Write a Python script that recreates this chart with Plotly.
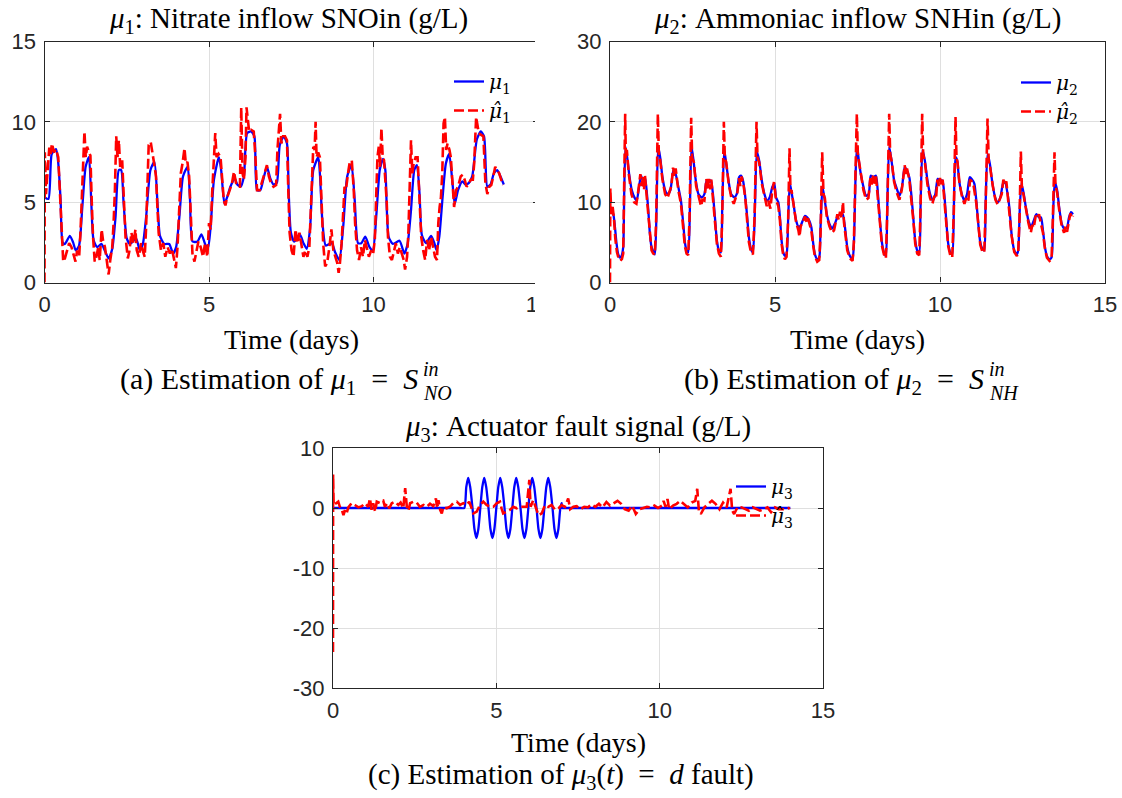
import plotly.graph_objects as go

W, H = 1122, 798

# ---------------- data: mu1 (nitrate) ----------------
t_mu1 = [0, 0.12, 0.22, 0.35, 0.42, 0.49, 0.55, 0.62, 0.77, 0.87, 0.95, 1.05, 1.15, 1.25, 1.35, 1.42,
         1.49, 1.60, 1.73, 1.83, 1.95, 2.06, 2.16, 2.26, 2.33, 2.40, 2.50, 2.60, 2.78, 2.90, 2.99, 3.09,
         3.22, 3.34, 3.44, 3.51, 3.64, 3.79, 3.91, 4.00, 4.10, 4.21, 4.35, 4.42, 4.50, 4.65, 4.77, 4.90,
         4.97, 5.05, 5.15, 5.30, 5.37, 5.47, 5.55, 5.65, 5.78, 5.86, 5.96, 6.06, 6.16, 6.28, 6.38, 6.46,
         6.56, 6.66, 6.76, 6.86, 6.96, 7.06, 7.15, 7.27, 7.37, 7.42, 7.49, 7.59, 7.77, 7.87, 7.97, 8.07,
         8.17, 8.32, 8.37, 8.45, 8.55, 8.73, 8.83, 8.96, 9.08, 9.20, 9.33, 9.43, 9.53, 9.63, 9.75, 9.88,
         9.98, 10.09, 10.19, 10.29, 10.36, 10.46, 10.59, 10.79, 10.94, 11.04, 11.14, 11.24, 11.32, 11.40,
         11.47, 11.60, 11.75, 11.85, 11.92, 12.00, 12.10, 12.20, 12.30, 12.40, 12.47, 12.57, 12.70, 12.80,
         12.90, 13.00, 13.14, 13.26, 13.36, 13.46, 13.56, 13.66, 13.76, 13.86, 13.96]
v_mu1 = [5.3, 5.2, 8.0, 8.3, 7.4, 5.1, 2.5, 2.4, 2.9, 2.5, 2.0, 2.3, 4.7, 7.2, 7.8, 5.1,
         2.65, 2.2, 2.4, 2.0, 1.5, 2.1, 4.1, 7.0, 7.0, 5.1, 2.75, 2.4, 2.75, 2.0, 2.4, 4.1,
         7.0, 7.5, 4.7, 2.9, 2.4, 2.4, 1.8, 2.2, 4.1, 6.6, 7.2, 5.3, 2.55, 2.55, 3.0, 2.3,
         2.2, 3.5, 6.4, 7.8, 7.0, 4.9, 5.3, 5.96, 6.5, 6.1, 5.96, 6.6, 9.3, 9.4, 9.1, 5.75,
         5.75, 6.5, 7.2, 6.5, 6.1, 6.2, 8.55, 9.1, 8.65, 5.75, 3.1, 2.55, 2.96, 2.45, 2.1, 3.3,
         7.0, 7.8, 6.8, 3.7, 2.3, 2.45, 1.9, 1.4, 3.5, 6.6, 7.3, 5.1, 2.45, 2.45, 2.85, 2.2,
         2.0, 4.3, 7.0, 7.7, 7.0, 2.85, 2.4, 2.6, 1.8, 2.45, 4.5, 7.0, 7.3, 5.5,
         2.96, 2.45, 2.9, 2.45, 2.0, 2.85, 5.3, 7.4, 8.0, 6.2, 4.9, 5.75, 6.3, 6.1,
         6.2, 6.6, 8.9, 9.4, 9.1, 5.96, 6.1, 6.8, 7.0, 6.6, 6.1]

t_mu1_hat = [0.0, 0.01, 0.045, 0.086, 0.146, 0.186, 0.227, 0.287, 0.347, 0.418, 0.468, 0.519, 0.569, 0.619,
             0.690, 0.750, 0.821, 0.871, 0.942, 0.992, 1.053, 1.093, 1.133, 1.173, 1.214, 1.254, 1.294,
             1.354, 1.395, 1.435, 1.475, 1.526, 1.576, 1.636, 1.677, 1.737, 1.777, 1.838, 1.898, 1.949,
             1.999, 2.059, 2.100, 2.140, 2.180, 2.220, 2.260, 2.301, 2.361, 2.402, 2.462, 2.533, 2.583,
             2.643, 2.704, 2.764, 2.804, 2.865, 2.935, 2.985, 3.046, 3.086, 3.127, 3.167, 3.228, 3.288,
             3.348, 3.389, 3.429, 3.469, 3.540, 3.610, 3.671, 3.741, 3.812, 3.872, 3.943, 3.993, 4.043,
             4.094, 4.144, 4.194, 4.255, 4.295, 4.345, 4.396, 4.446, 4.497, 4.557, 4.617, 4.678, 4.748,
             4.819, 4.879, 4.950, 5.00, 5.05, 5.10, 5.15, 5.19, 5.23, 5.29, 5.35, 5.40, 5.45, 5.50, 5.55,
             5.63, 5.70, 5.76, 5.82, 5.88, 5.94, 5.98, 6.02, 6.06, 6.11, 6.14, 6.18, 6.22, 6.28, 6.36,
             6.41, 6.46, 6.54, 6.61, 6.68, 6.76, 6.82, 6.88, 6.96, 7.04, 7.08, 7.12, 7.16, 7.20, 7.25,
             7.31, 7.37, 7.41, 7.45, 7.51, 7.57, 7.63, 7.69, 7.75, 7.81, 7.87, 7.93, 7.99, 8.05, 8.09,
             8.13, 8.17, 8.21, 8.24, 8.27, 8.32, 8.37, 8.42, 8.47, 8.53, 8.59, 8.66, 8.72, 8.78, 8.84,
             8.90, 8.94, 8.98, 9.03, 9.08, 9.12, 9.16, 9.20, 9.24, 9.28, 9.34, 9.40, 9.44, 9.50, 9.56,
             9.62, 9.68, 9.74, 9.80, 9.86, 9.93, 9.99, 10.04, 10.09, 10.12, 10.16, 10.20, 10.24, 10.28,
             10.32, 10.36, 10.40, 10.44, 10.50, 10.56, 10.62, 10.68, 10.74, 10.80, 10.86, 10.92, 10.96,
             11.02, 11.06, 11.10, 11.14, 11.18, 11.22, 11.28, 11.34, 11.40, 11.45, 11.51, 11.57, 11.63,
             11.69, 11.75, 11.81, 11.87, 11.93, 11.97, 12.01, 12.05, 12.09, 12.13, 12.17, 12.21, 12.25,
             12.31, 12.35, 12.41, 12.45, 12.51, 12.57, 12.65, 12.71, 12.77, 12.83, 12.90, 12.96, 13.02,
             13.06, 13.12, 13.16, 13.20, 13.26, 13.34, 13.40, 13.46, 13.52, 13.58, 13.64, 13.70, 13.76,
             13.82, 13.88, 13.94]
v_mu1_hat = [0.0, 8.1, 5.5, 6.6, 8.4, 8.0, 8.65, 8.1, 8.3, 7.8, 5.3, 2.65, 1.3, 1.5,
             2.0, 2.45, 2.2, 1.8, 1.3, 2.0, 1.6, 3.1, 5.1, 7.8, 9.4, 7.8, 8.45,
             8.1, 7.9, 5.1, 2.85, 1.3, 1.6, 2.2, 1.4, 3.3, 2.65, 2.2, 1.2, 0.5,
             1.4, 2.2, 3.7, 5.75, 9.1, 7.8, 8.85, 7.2, 7.6, 5.3, 2.85, 1.5, 2.0,
             3.1, 2.45, 3.3, 2.0, 1.6, 2.45, 2.0, 1.6, 3.3, 6.4, 8.55, 8.75, 7.8,
             7.2, 6.6, 5.1, 3.1, 2.0, 2.45, 1.6, 2.2, 1.8, 2.1, 1.4, 0.9, 2.2,
             4.3, 6.8, 7.4, 8.35, 7.4, 7.5, 6.6, 3.7, 1.8, 1.3, 2.0, 2.55, 2.2,
             1.6, 2.45, 1.6, 3.7, 3.3, 5.75, 8.25, 9.3, 7.8, 8.0, 7.8, 6.6, 5.1, 4.8, 5.3,
             5.75, 6.2, 6.9, 6.2, 5.96, 5.96, 10.9, 6.8, 6.4, 7.8, 10.9, 9.9, 9.4, 9.5, 9.4,
             7.8, 5.75, 5.75, 6.2, 6.8, 7.3, 6.6, 6.2, 5.96, 6.07, 8.25, 9.5, 10.5, 8.65, 9.1,
             9.1, 8.85, 5.75, 3.1, 2.0, 1.6, 3.3, 2.45, 3.1, 2.2, 1.6, 2.0, 1.6, 2.2, 4.5,
             6.8, 8.45, 8.25, 10.0, 7.8, 8.1, 7.8, 5.1, 2.45, 1.0, 1.2, 2.2, 3.3, 2.0, 1.6,
             1.2, 0.6, 1.2, 2.45, 4.1, 5.96, 5.75, 6.6, 7.0, 7.5, 7.6, 5.75, 3.7, 2.0, 1.4,
             2.2, 1.6, 2.65, 2.2, 1.6, 2.0, 1.8, 2.65, 5.3, 7.8, 8.45, 7.2, 9.6, 7.8,
             7.6, 6.6, 5.1, 2.85, 1.6, 1.4, 2.0, 2.45, 1.8, 2.2, 1.8, 1.4, 0.8,
             1.6, 3.1, 5.75, 8.85, 6.8, 7.4, 7.8, 7.8, 5.1, 2.85, 2.0, 1.4, 2.65,
             2.0, 2.85, 2.2, 1.6, 1.4, 3.7, 4.7, 5.3, 6.8, 9.9, 10.3, 8.25, 8.65,
             8.25, 7.8, 5.75, 4.7, 5.75, 5.96, 6.6, 6.7, 6.4, 5.96, 6.2, 6.4, 6.4,
             7.4, 10.3, 9.9, 9.3, 9.2, 9.1, 6.2, 5.5, 5.96, 6.07, 6.6, 7.2, 7.0,
             6.8, 6.4, 6.07]

# ---------------- data: mu2 (ammoniac) ----------------
t_mu2 = [0, 0.03, 0.10, 0.15, 0.20, 0.25, 0.30, 0.35, 0.40, 0.43, 0.47, 0.52, 0.58, 0.66, 0.74, 0.81,
         0.88, 0.94, 1.00, 1.06, 1.12, 1.16, 1.21, 1.26, 1.31, 1.36, 1.41, 1.46, 1.52, 1.59, 1.67, 1.75,
         1.83, 1.92, 1.99, 2.07, 2.15, 2.22, 2.27, 2.32, 2.37, 2.42, 2.47, 2.53, 2.60, 2.68, 2.78, 2.86,
         2.93, 3.00, 3.06, 3.12, 3.18, 3.24, 3.30, 3.36, 3.40, 3.46, 3.51, 3.59, 3.67, 3.77, 3.84, 3.91,
         3.97, 4.03, 4.09, 4.15, 4.21, 4.27, 4.33, 4.39, 4.45, 4.52, 4.60, 4.68, 4.76, 4.84, 4.92, 4.98,
         5.03, 5.10, 5.15, 5.20, 5.25, 5.30, 5.35, 5.40, 5.45, 5.49, 5.56, 5.64, 5.72, 5.78, 5.84, 5.91,
         5.98, 6.04, 6.10, 6.16, 6.21, 6.28, 6.34, 6.38, 6.44, 6.51, 6.57, 6.65, 6.73, 6.81, 6.89, 6.97,
         7.05, 7.12, 7.19, 7.27, 7.35, 7.39, 7.45, 7.49, 7.54, 7.60, 7.68, 7.76, 7.84, 7.90, 7.98, 8.06,
         8.12, 8.18, 8.24, 8.30, 8.36, 8.40, 8.46, 8.53, 8.61, 8.69, 8.77, 8.85, 8.93, 8.99, 9.07, 9.13,
         9.19, 9.25, 9.31, 9.37, 9.41, 9.47, 9.54, 9.62, 9.70, 9.78, 9.86, 9.93, 10.00, 10.07, 10.13,
         10.19, 10.25, 10.31, 10.37, 10.42, 10.47, 10.52, 10.58, 10.66, 10.74, 10.82, 10.90, 10.96, 11.04,
         11.10, 11.16, 11.22, 11.28, 11.34, 11.38, 11.44, 11.51, 11.59, 11.67, 11.75, 11.83, 11.91, 11.97,
         12.05, 12.11, 12.17, 12.25, 12.33, 12.37, 12.42, 12.47, 12.54, 12.60, 12.68, 12.76, 12.84, 12.92,
         13.00, 13.06, 13.12, 13.18, 13.24, 13.32, 13.38, 13.43, 13.48, 13.55, 13.61, 13.69, 13.77, 13.85,
         13.91, 13.97, 14.03]
v_mu2 = [9.0, 9.0, 8.5, 6.9, 4.8, 3.5, 3.1, 3.3, 4.4, 11.0, 16.9, 15.6, 13.5, 11.5, 10.6, 10.2,
         11.9, 13.3, 12.7, 13.1, 11.0, 9.0, 6.0, 4.4, 3.9, 3.5, 9.0, 16.9, 15.6, 13.1, 11.5, 11.0,
         11.5, 14.0, 13.5, 11.9, 10.2, 7.3, 5.0, 4.0, 3.75, 9.0, 16.9, 15.2, 12.7, 11.0, 10.6, 11.0,
         12.7, 12.5, 12.7, 11.0, 8.1, 5.2, 4.0, 3.75, 9.0, 16.5, 15.2, 12.7, 11.0, 10.6, 11.0, 13.1,
         13.3, 12.7, 11.0, 8.5, 5.6, 4.2, 3.75, 9.0, 16.25, 15.2, 12.7, 11.0, 10.2, 10.6, 11.9, 12.3,
         10.6, 10.0, 8.1, 5.2, 3.75, 3.3, 3.5, 8.1, 12.3, 11.5, 9.8, 7.7, 6.9, 7.1, 7.7, 8.3,
         8.1, 7.7, 6.9, 4.8, 3.5, 2.9, 3.1, 6.9, 11.9, 10.2, 8.5, 7.3, 6.7, 7.3, 8.1, 8.5,
         8.5, 6.9, 4.4, 3.3, 2.9, 4.8, 14.4, 16.9, 15.2, 13.5, 11.9, 10.8, 11.0, 13.3, 13.1, 13.3,
         11.0, 7.7, 5.0, 3.75, 3.3, 9.0, 16.9, 15.2, 12.7, 11.7, 10.8, 11.9, 14.4, 14.0, 13.1, 11.0,
         8.1, 5.2, 4.0, 3.75, 9.4, 16.5, 15.2, 12.7, 11.0, 10.2, 11.0, 12.9, 12.7, 12.7, 11.0,
         7.7, 4.8, 3.75, 3.5, 9.4, 15.6, 15.2, 12.7, 11.0, 10.2, 11.0, 13.1, 12.9, 12.3,
         10.2, 7.3, 5.0, 4.2, 4.0, 9.4, 16.0, 14.8, 12.3, 10.6, 10.0, 10.6, 12.3, 12.5,
         11.0, 9.0, 6.0, 4.0, 3.5, 4.0, 9.4, 12.3, 11.0, 9.4, 7.7, 6.9, 7.7, 8.5,
         8.1, 8.1, 6.5, 4.4, 3.3, 2.9, 3.1, 9.0, 12.5, 11.5, 9.4, 7.3, 6.7, 6.9,
         8.1, 8.75, 8.5]

t_mu2_hat = [0.0, 0.01, 0.04, 0.08, 0.12, 0.16, 0.21, 0.26, 0.31, 0.36, 0.40, 0.43, 0.46, 0.48, 0.51,
             0.57, 0.65, 0.73, 0.80, 0.86, 0.92, 0.96, 1.00, 1.03, 1.06, 1.11, 1.16, 1.21, 1.26, 1.31,
             1.36, 1.40, 1.45, 1.48, 1.52, 1.59, 1.67, 1.74, 1.80, 1.86, 1.91, 1.95, 1.99, 2.07, 2.15,
             2.22, 2.27, 2.32, 2.37, 2.41, 2.46, 2.49, 2.54, 2.61, 2.69, 2.76, 2.80, 2.86, 2.92, 2.96,
             3.00, 3.04, 3.07, 3.12, 3.18, 3.24, 3.30, 3.36, 3.40, 3.45, 3.48, 3.52, 3.60, 3.68, 3.75,
             3.80, 3.86, 3.91, 3.95, 3.99, 4.05, 4.10, 4.16, 4.21, 4.27, 4.33, 4.38, 4.44, 4.47, 4.52,
             4.60, 4.68, 4.75, 4.80, 4.86, 4.92, 4.97, 5.03, 5.10, 5.15, 5.20, 5.25, 5.30, 5.35, 5.40,
             5.44, 5.47, 5.50, 5.56, 5.64, 5.71, 5.74, 5.78, 5.84, 5.91, 5.96, 6.00, 6.04, 6.10, 6.16,
             6.21, 6.28, 6.34, 6.38, 6.43, 6.47, 6.51, 6.57, 6.65, 6.73, 6.79, 6.84, 6.89, 6.93, 6.97,
             7.02, 7.06, 7.09, 7.12, 7.19, 7.27, 7.35, 7.39, 7.44, 7.48, 7.51, 7.55, 7.61, 7.68, 7.76,
             7.83, 7.89, 7.93, 7.98, 8.02, 8.06, 8.12, 8.18, 8.24, 8.30, 8.36, 8.40, 8.46, 8.49, 8.54,
             8.61, 8.69, 8.77, 8.84, 8.90, 8.93, 8.97, 9.00, 9.07, 9.13, 9.19, 9.25, 9.31, 9.37, 9.41,
             9.46, 9.49, 9.54, 9.62, 9.70, 9.77, 9.83, 9.88, 9.92, 9.96, 10.00, 10.04, 10.08, 10.13,
             10.19, 10.25, 10.31, 10.37, 10.42, 10.47, 10.50, 10.53, 10.59, 10.67, 10.74, 10.80, 10.86,
             10.91, 10.96, 11.02, 11.10, 11.16, 11.22, 11.28, 11.34, 11.38, 11.44, 11.48, 11.52, 11.60,
             11.68, 11.75, 11.81, 11.87, 11.92, 11.97, 12.01, 12.06, 12.11, 12.17, 12.25, 12.33, 12.37,
             12.41, 12.45, 12.48, 12.54, 12.60, 12.68, 12.75, 12.80, 12.84, 12.90, 12.95, 13.00, 13.05,
             13.12, 13.18, 13.24, 13.32, 13.38, 13.42, 13.47, 13.50, 13.55, 13.61, 13.69, 13.76, 13.80,
             13.85, 13.91, 13.95, 14.00, 14.03]
v_mu2_hat = [0.0, 11.7, 8.5, 9.4, 8.0, 5.5, 3.8, 3.0, 2.7, 2.9, 3.6, 10.0, 21.0, 15.5, 16.5,
             13.5, 11.0, 10.0, 9.8, 11.5, 13.5, 12.0, 13.2, 11.5, 13.3, 10.8, 8.5, 5.5, 4.0, 3.6,
             3.5, 8.0, 21.0, 16.0, 15.3, 12.8, 11.0, 10.5, 11.2, 12.0, 14.3, 13.2, 14.2, 11.5, 9.8,
             6.8, 4.5, 3.6, 3.4, 8.0, 20.5, 15.5, 15.0, 12.0, 10.5, 9.5, 10.3, 10.2, 12.9, 11.5,
             12.9, 11.6, 12.8, 10.5, 7.5, 4.8, 3.6, 3.2, 8.0, 20.0, 15.5, 15.0, 12.2, 10.5, 9.8,
             10.4, 11.2, 13.0, 12.0, 13.2, 12.0, 10.5, 8.0, 5.0, 3.8, 3.5, 8.0, 20.0, 15.5, 15.0,
             12.3, 10.6, 9.5, 10.2, 9.2, 11.5, 12.5, 10.3, 9.5, 7.7, 4.8, 3.4, 2.9, 3.2, 8.0,
             16.7, 11.2, 11.5, 9.5, 7.5, 6.5, 5.7, 7.0, 7.5, 8.2, 7.5, 8.0, 7.4, 6.5, 4.5,
             3.2, 2.6, 2.8, 6.0, 16.2, 11.0, 10.5, 8.2, 7.0, 6.2, 6.5, 7.5, 8.5, 7.8, 8.8,
             8.0, 10.0, 7.5, 6.5, 4.0, 3.0, 2.7, 5.0, 14.0, 21.0, 16.0, 15.0, 13.2, 11.5, 10.3,
             10.5, 13.0, 12.2, 13.5, 12.3, 13.2, 10.6, 7.4, 4.6, 3.5, 3.0, 8.5, 21.0, 16.0, 15.0,
             12.5, 11.2, 10.3, 11.5, 13.5, 14.6, 13.5, 14.2, 12.8, 10.6, 7.8, 4.8, 3.6, 3.4, 9.0,
             21.0, 16.0, 15.0, 12.2, 10.5, 9.8, 10.8, 10.4, 12.8, 12.0, 13.0, 12.0, 12.8, 10.6,
             7.4, 4.5, 3.4, 3.1, 9.0, 20.6, 15.5, 15.0, 12.4, 10.6, 9.8, 10.6, 10.2,
             12.8, 12.6, 12.0, 9.9, 7.0, 4.7, 3.9, 3.7, 9.0, 20.4, 14.5, 14.3, 12.0,
             10.3, 9.7, 10.5, 11.0, 12.8, 12.2, 12.6, 10.7, 8.7, 5.8, 3.8, 3.3, 3.7,
             8.0, 16.3, 12.0, 10.7, 9.1, 7.4, 6.2, 7.2, 6.8, 8.3, 8.0, 8.5, 7.5,
             6.2, 4.2, 3.1, 2.7, 2.9, 8.0, 16.2, 12.0, 11.2, 9.1, 7.0, 6.2, 7.0,
             6.3, 7.8, 8.6, 8.0, 8.3]

# ---------------- data: mu3 (actuator fault) ----------------
t_mu3 = [0, 1.0, 2.0, 3.0, 3.9, 4.02, 4.08, 4.14, 4.20, 4.27, 4.33, 4.39, 4.45, 4.51, 4.57, 4.63, 4.69,
         4.76, 4.82, 4.88, 4.94, 5.00, 5.06, 5.12, 5.18, 5.25, 5.31, 5.37, 5.43, 5.49, 5.55, 5.61, 5.67,
         5.74, 5.80, 5.86, 5.92, 5.98, 6.04, 6.10, 6.16, 6.23, 6.29, 6.35, 6.41, 6.47, 6.53, 6.59, 6.65,
         6.72, 6.78, 6.84, 6.90, 6.96, 7.00, 7.01, 7.2, 8.0, 9.0, 10.0, 11.0, 12.0, 13.0, 14.0]
v_mu3 = [0, 0, 0, 0, 0, 0, 3.5, 5.0, 3.5, 0, -3.5, -5.0, -3.5, 0, 3.5, 5.0, 3.5,
         0, -3.5, -5.0, -3.5, 0, 3.5, 5.0, 3.5, 0, -3.5, -5.0, -3.5, 0, 3.5, 5.0, 3.5,
         0, -3.5, -5.0, -3.5, 0, 3.5, 5.0, 3.5, 0, -3.5, -5.0, -3.5, 0, 3.5, 5.0, 3.5,
         0, -3.5, -5.0, -3.5, 0, 0.8, 0, 0, 0, 0, 0, 0, 0, 0, 0]

t_mu3_hat = [0.0, 0.003, 0.02, 0.16, 0.21, 0.27, 0.32, 0.37, 0.42, 0.47, 0.57, 0.67, 0.78, 0.88, 0.98,
             1.08, 1.13, 1.18, 1.23, 1.29, 1.34, 1.44, 1.54, 1.59, 1.66, 1.72, 1.80, 1.90, 2.00, 2.07,
             2.15, 2.21, 2.26, 2.31, 2.36, 2.46, 2.56, 2.66, 2.77, 2.87, 2.97, 3.07, 3.15, 3.19, 3.23,
             3.28, 3.33, 3.38, 3.48, 3.58, 3.68, 3.79, 3.89, 3.99, 4.09, 4.17, 4.24, 4.30, 4.40, 4.50,
             4.60, 4.70, 4.81, 4.91, 5.01, 5.11, 5.16, 5.21, 5.32, 5.42, 5.52, 5.62, 5.72, 5.83, 5.93,
             6.01, 6.05, 6.13, 6.23, 6.29, 6.39, 6.49, 6.59, 6.69, 6.80, 6.90, 7.00, 7.10, 7.20, 7.26,
             7.36, 7.46, 7.57, 7.69, 7.80, 7.91, 8.03, 8.14, 8.25, 8.37, 8.48, 8.59, 8.71, 8.82, 8.93,
             9.05, 9.16, 9.27, 9.39, 9.50, 9.61, 9.73, 9.84, 9.95, 10.07, 10.12, 10.18, 10.24, 10.29,
             10.41, 10.52, 10.63, 10.75, 10.86, 10.98, 11.09, 11.15, 11.20, 11.26, 11.37, 11.49, 11.60,
             11.71, 11.83, 11.94, 12.05, 12.17, 12.22, 12.28, 12.39, 12.51, 12.62, 12.73, 12.85, 12.96,
             13.07, 13.19, 13.30, 13.41, 13.53, 13.64, 13.75, 13.92, 13.98]
v_mu3_hat = [-24.0, 5.6, 0.5, 1.05, 0.2, -0.3, -1.2, -0.3, -0.8, 0.1, 0.8, 0.5, 0.1, 0.3, 0.8,
             0.2, 1.6, -0.3, 0.8, -0.6, 1.05, 0.8, 1.2, 0.2, 0.8, -0.05, 0.8, 1.05, 0.5, 0.9,
             -0.05, 3.3, 0.2, -0.45, 0.8, 1.05, 0.9, 0.2, 0.5, 0.2, 0.7, 0.3, 1.6, -0.05, 1.3,
             -0.3, -0.9, 0.2, -0.05, 0.2, 0.8, 1.05, 0.5, 0.8, 0.5, 1.05, -0.05, -0.9, -0.6, 0.5,
             1.05, 0.5, 0.2, 0.2, 0.8, 1.05, -0.05, -0.9, -0.6, -0.3, 0.2, -0.05, 0.2, 0.2, 0.2,
             4.7, 0.2, 1.3, -0.3, -1.2, -0.9, 0.5, 0.2, 0.5, -0.3, -0.05, 0.5, 0.2, 1.6, -0.2,
             0.2, 0.3, -0.2, 0.2, 0.1, 0.6, 0.2, 0.7, 0.1, 1.0, 0.4, 0.8, 1.2, 0.7, -0.2,
             -0.45, 0.4, -1.0, -0.2, 0.0, 0.2, 0.1, 0.4, 0.0, 0.4, 1.2, 0.2, 1.5, -0.2,
             0.4, 0.7, 1.2, 0.7, 0.1, 0.9, 1.2, 3.2, -0.45, -1.0, 0.1, 0.7, 1.2,
             0.7, -0.2, 0.9, 0.1, 3.2, -0.45, -1.0, 0.2, 0.1, -0.2, -0.45, 0.1, -0.2,
             -0.45, -0.2, 0.1, -0.7, 0.1, -0.2, -0.2, -0.2, 0.1]

# ---------------- axis ticks ----------------
x_ticks = [0, 5, 10, 15]
x_ticktext = ["0", "5", "10", "15"]
y1_ticks = [0, 5, 10, 15]
y1_ticktext = ["0", "5", "10", "15"]
y2_ticks = [0, 10, 20, 30]
y2_ticktext = ["0", "10", "20", "30"]
y3_ticks = [-30, -20, -10, 0, 10]
y3_ticktext = ["-30", "-20", "-10", "0", "10"]

BLUE = "rgb(0,0,255)"
RED = "rgb(255,0,0)"
DASH = "10px,4px"
SERIF = "Liberation Serif"
LEGSERIF = "DejaVu Serif"
SANS = "Liberation Sans"
AX = "#262626"
SP = "\u2002"


def px(x):
    return x / W


def py(y):
    return 1 - y / H


fig = go.Figure()

panels = [
    (t_mu1, v_mu1, t_mu1_hat, v_mu1_hat, "1", "legend"),
    (t_mu2, v_mu2, t_mu2_hat, v_mu2_hat, "2", "legend2"),
    (t_mu3, v_mu3, t_mu3_hat, v_mu3_hat, "3", "legend3"),
]
for i, (tb, vb, tr, vr, k, lg) in enumerate(panels):
    ax = "" if i == 0 else str(i + 1)
    fig.add_trace(go.Scatter(x=tb, y=vb, mode="lines", xaxis="x" + ax, yaxis="y" + ax,
                             line=dict(color=BLUE, width=2.3, shape="spline", smoothing=0.6),
                             name="<i>μ</i><sub>%s</sub>" % k, legend=lg))
    fig.add_trace(go.Scatter(x=tr, y=vr, mode="lines", xaxis="x" + ax, yaxis="y" + ax,
                             line=dict(color=RED, width=2.6, dash=DASH),
                             name="<i>μ̂</i><sub>%s</sub>" % k, legend=lg))

axis_common = dict(showline=True, linecolor=AX, linewidth=1.3, mirror="ticks", ticks="inside",
                   ticklen=5, tickwidth=1, tickcolor=AX, showgrid=True, gridcolor="#dfdfdf",
                   gridwidth=1, zeroline=False, automargin=False,
                   tickfont=dict(family=SANS, size=22, color=AX))

domains = {
    "": ((44.5, 538), (41.5, 282.5), y1_ticks, y1_ticktext, [0, 15]),
    "2": ((610, 1105), (41.5, 282.5), y2_ticks, y2_ticktext, [0, 30]),
    "3": ((333, 823), (448, 688), y3_ticks, y3_ticktext, [-30, 10]),
}
for ax, ((x0, x1), (y0, y1), yt, ytt, yr) in domains.items():
    fig.update_layout({
        "xaxis" + ax: dict(axis_common, domain=[px(x0), px(x1)], range=[0, 15], tickvals=x_ticks,
                           ticktext=x_ticktext, anchor="y" + ax, ticklabelstandoff=2),
        "yaxis" + ax: dict(axis_common, domain=[py(y1), py(y0)], range=yr, tickvals=yt,
                           ticktext=ytt, anchor="x" + ax, ticklabelstandoff=3),
    })

leg_common = dict(bgcolor="rgba(0,0,0,0)", borderwidth=0, font=dict(family=LEGSERIF, size=20, color="#000"),
                  xanchor="left", yanchor="top", tracegroupgap=0)
fig.update_layout(
    legend=dict(leg_common, x=px(449), y=py(62)),
    legend2=dict(leg_common, x=px(1016), y=py(63)),
    legend3=dict(leg_common, x=px(731), y=py(467)),
)

ann = []


def text(x, y, s, size=28, anchor="center"):
    ann.append(dict(x=px(x), y=py(y), xref="paper", yref="paper", text=s, showarrow=False,
                    xanchor=anchor, yanchor="middle", font=dict(family=SERIF, size=size, color="#000")))


text(288, 20, "<i>μ</i><sub>1</sub>: Nitrate inflow SNOin (g/L)", size=29)
text(858, 20, "<i>μ</i><sub>2</sub>: Ammoniac inflow SNHin (g/L)", size=29)
text(578, 428, "<i>μ</i><sub>3</sub>: Actuator fault signal (g/L)", size=29)
text(291, 339, "Time (days)")
text(857, 339, "Time (days)")
text(578, 742, "Time (days)")
# captions
text(420, 381, "(a) Estimation of <i>μ</i><sub>1</sub>" + SP + "=" + SP + "<i>S</i>", size=30, anchor="right")
text(421, 369, "<i>in</i>", size=20, anchor="left")
text(421, 393, "<i>NO</i>", size=20, anchor="left")
text(986, 381, "(b) Estimation of <i>μ</i><sub>2</sub>" + SP + "=" + SP + "<i>S</i>", size=30, anchor="right")
text(987, 369, "<i>in</i>", size=20, anchor="left")
text(987, 393, "<i>NH</i>", size=20, anchor="left")
text(561, 776, "(c) Estimation of <i>μ</i><sub>3</sub>(<i>t</i>)" + SP + "=" + SP + "<i>d</i> fault)", size=29)

fig.update_layout(
    width=W, height=H, margin=dict(l=0, r=0, t=0, b=0, pad=0, autoexpand=False),
    paper_bgcolor="white", plot_bgcolor="white",
    annotations=ann, showlegend=True,
    shapes=[dict(type="rect", xref="paper", yref="paper", x0=px(535), x1=px(575), y0=py(330), y1=py(30),
                 fillcolor="white", line=dict(width=0), layer="above")],
)

fig.write_html("out.html")
